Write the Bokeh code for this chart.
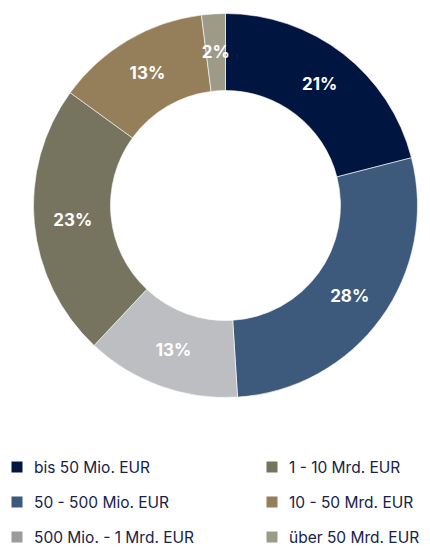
import numpy as np
from bokeh.plotting import figure
from bokeh.models import Range1d, ColumnDataSource
from bokeh.core.properties import value
from bokeh.embed import file_html
from bokeh.resources import INLINE

categories = ["bis 50 Mio. EUR", "50 - 500 Mio. EUR", "500 Mio. - 1 Mrd. EUR",
              "1 - 10 Mrd. EUR", "10 - 50 Mrd. EUR", "über 50 Mrd. EUR"]
shares = [21, 28, 13, 23, 13, 2]
labels = ["21%", "28%", "13%", "23%", "13%", "2%"]
slice_colors = ["#001540", "#3d5a7d", "#bdbec2", "#76735f", "#957f5a", "#9d9a88"]
legend_colors = ["#001540", "#3d5a7d", "#9a9c9e", "#76735f", "#957f5a", "#9d9a88"]

W, H = 430, 549
p = figure(width=W, height=H, output_backend="svg", toolbar_location=None,
           x_axis_type=None, y_axis_type=None, min_border=0,
           x_range=Range1d(0, W), y_range=Range1d(0, H))
p.outline_line_color = None
p.background_fill_color = "white"
p.border_fill_color = "white"

PH = 549  # data y = PH - picture y
cx, cy = 225, PH - 205
r_out, r_in = 192, 115

frac = np.array(shares, dtype=float) / sum(shares)
cum_end = np.cumsum(frac)
cum_start = cum_end - frac
start = np.pi / 2 - 2 * np.pi * cum_start
end = np.pi / 2 - 2 * np.pi * cum_end
mid = (start + end) / 2
r_lab = (r_out + r_in) / 2

src = ColumnDataSource(dict(start=start, end=end, color=slice_colors,
                            lx=cx + r_lab * np.cos(mid), ly=cy + r_lab * np.sin(mid),
                            label=labels))
p.annular_wedge(x=cx, y=cy, inner_radius=r_in, outer_radius=r_out,
                start_angle="start", end_angle="end", direction="clock",
                fill_color="color", line_color="white", line_width=0.6, source=src)
p.text(x="lx", y="ly", text="label", source=src, text_color="white",
       text_font=value("Inter"), text_font_size="17px", text_font_style="bold",
       text_align="center", text_baseline="middle")

# legend (two columns, three rows)
lx = [16.5, 16.5, 16.5, 271.5, 271.5, 271.5]
ly = [PH - 466.5, PH - 501.5, PH - 536.5, PH - 466.5, PH - 501.5, PH - 536.5]
leg = ColumnDataSource(dict(x=lx, y=ly, tx=[v + 17 for v in lx], c=legend_colors, t=categories))
p.rect(x="x", y="y", width=11, height=11, fill_color="c", line_color=None, source=leg)
p.text(x="tx", y="y", text="t", source=leg, text_color="#16224a",
       text_font=value("Inter"), text_font_size="15.5px",
       text_align="left", text_baseline="middle")

open("out.html", "w").write(file_html(p, INLINE))
